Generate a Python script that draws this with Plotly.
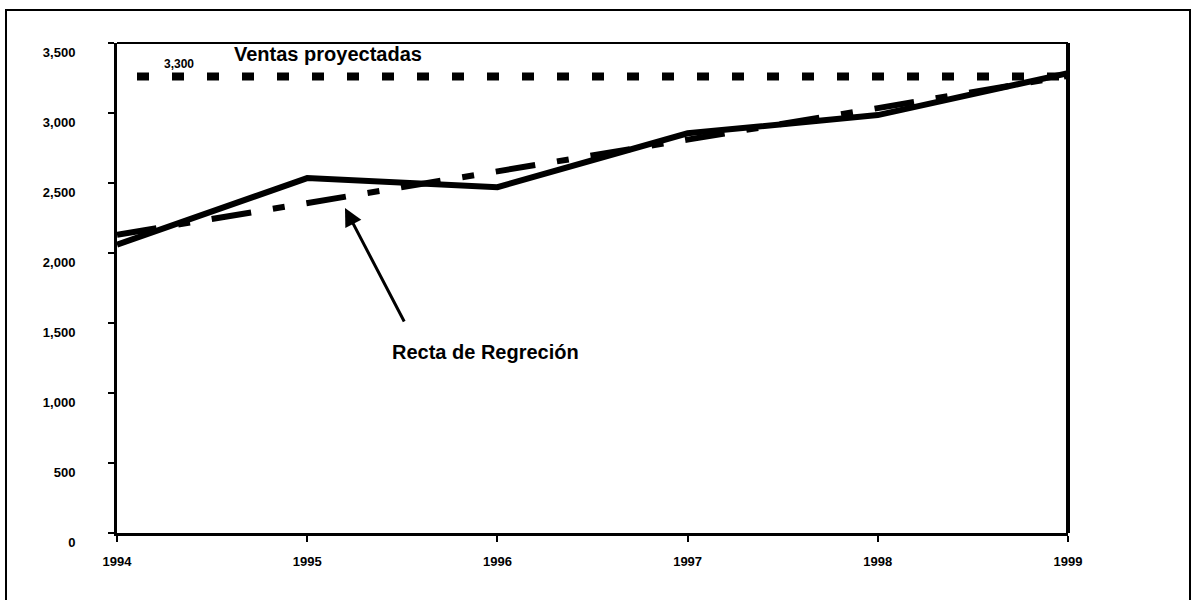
import plotly.graph_objects as go

years = [1994, 1995, 1996, 1997, 1998, 1999]
ventas = [2060, 2535, 2470, 2855, 2985, 3285]
regresion = [2130, 2360, 2585, 2810, 3035, 3265]
proyectadas = [3260, 3260, 3260, 3260, 3260, 3260]
y_ticks = [0, 500, 1000, 1500, 2000, 2500, 3000, 3500]
y_tick_labels = ["0", "500", "1,000", "1,500", "2,000", "2,500", "3,000", "3,500"]
x_tick_labels = ["1994", "1995", "1996", "1997", "1998", "1999"]

# plot-area geometry in page pixels
L, R, T, B = 117, 1068, 43, 533
W, H = R - L, B - T

fig = go.Figure()
fig.add_trace(go.Scatter(x=years, y=proyectadas, mode="lines",
                         line=dict(color="black", width=8, dash="0px,20px,12px,3px"),
                         showlegend=False, hoverinfo="skip"))
fig.add_trace(go.Scatter(x=years, y=regresion, mode="lines",
                         line=dict(color="black", width=6, dash="40px,22px,12px,22px"),
                         showlegend=False))
fig.add_trace(go.Scatter(x=years, y=ventas, mode="lines",
                         line=dict(color="black", width=6),
                         showlegend=False))

font_main = "Liberation Sans, Arial, sans-serif"

fig.update_layout(
    width=1193, height=600,
    margin=dict(l=L, r=1193 - L - W, t=T, b=600 - T - H),
    paper_bgcolor="white", plot_bgcolor="white",
    font=dict(family=font_main, color="black"),
    xaxis=dict(range=[1994, 1999], tickvals=years, ticktext=x_tick_labels,
               showgrid=False, zeroline=False, showline=True, linecolor="black",
               linewidth=3, ticks="outside", ticklen=6, tickwidth=2, tickcolor="black",
               tickfont=dict(size=13, family=font_main, weight="bold"),
               ticklabelstandoff=8),
    yaxis=dict(range=[0, 3500], tickvals=y_ticks, ticktext=y_tick_labels,
               showgrid=False, zeroline=False, showline=True, linecolor="black",
               linewidth=3, ticks="outside", ticklen=6, tickwidth=2, tickcolor="black",
               tickfont=dict(size=13, family=font_main, weight="bold"),
               ticklabelstandoff=30, ticklabelshift=9),
)


def px(x):
    return (x - L) / W


def py(y):
    return (B - y) / H


# plot area top and right borders
fig.add_shape(type="line", xref="paper", yref="paper", x0=0, x1=1, y0=1, y1=1,
              line=dict(color="black", width=2))
fig.add_shape(type="line", xref="paper", yref="paper", x0=1, x1=1, y0=0, y1=1,
              line=dict(color="black", width=4))
# outer frame
fig.add_shape(type="rect", xref="paper", yref="paper",
              x0=px(6), x1=px(1190), y0=py(610), y1=py(10),
              line=dict(color="black", width=2))

fig.add_annotation(xref="paper", yref="paper", x=px(232), y=py(54),
                   xanchor="left", yanchor="middle", text="Ventas proyectadas",
                   showarrow=False, font=dict(size=20, family=font_main, weight="bold"))
fig.add_annotation(xref="paper", yref="paper", x=px(162), y=py(64),
                   xanchor="left", yanchor="middle", text="3,300",
                   showarrow=False, font=dict(size=12, family=font_main, weight="bold"))
fig.add_annotation(xref="paper", yref="paper", x=px(390), y=py(352),
                   xanchor="left", yanchor="middle", text="Recta de Regreción",
                   showarrow=False, font=dict(size=20, family=font_main, weight="bold"))
fig.add_annotation(xref="paper", yref="paper", axref="pixel", ayref="pixel",
                   x=px(345), y=py(208), ax=60, ay=115,
                   showarrow=True, arrowhead=2, arrowsize=1.2, arrowwidth=3,
                   arrowcolor="black", text="")

fig.write_html("out.html", config={"displayModeBar": False},
               post_script="document.body.style.margin='0px';document.body.style.padding='0px';")
